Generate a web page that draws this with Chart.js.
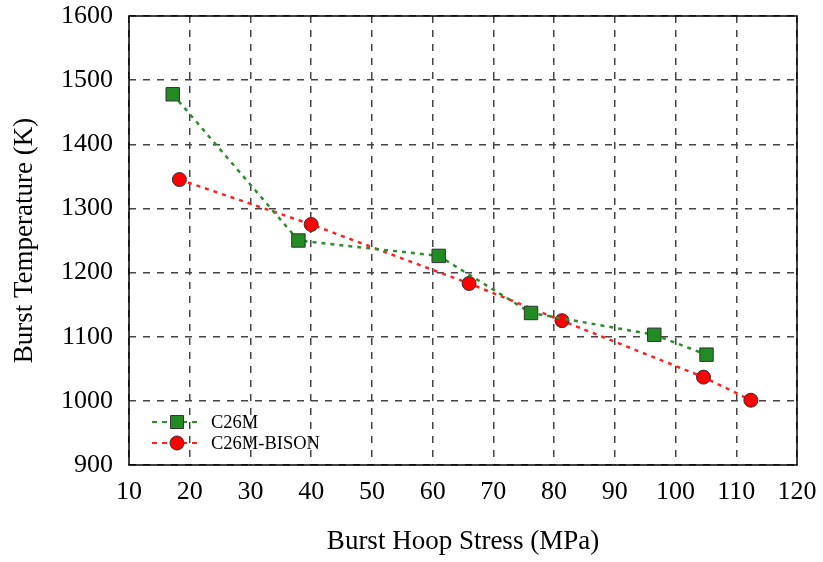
<!DOCTYPE html>
<html>
<head>
<meta charset="utf-8">
<script src="https://cdn.jsdelivr.net/npm/chart.js@4.4.1/dist/chart.umd.min.js"></script>
<style>
  html, body { margin: 0; padding: 0; background: #fff; }
  #wrap { width: 823px; height: 562px; }
</style>
</head>
<body>
<div id="wrap"><canvas id="c" width="823" height="562"></canvas></div>
<script>
// values
var c26mStress = [17.2, 37.9, 61, 76.2, 96.5, 105.1];
var c26mTemp   = [1478, 1250, 1226, 1137, 1103, 1072];
var bisonStress = [18.3, 40, 66, 81.3, 104.6, 112.4];
var bisonTemp   = [1345, 1275, 1183, 1125, 1037, 1001];
var xTicks = [10, 20, 30, 40, 50, 60, 70, 80, 90, 100, 110, 120];
var yTicks = [900, 1000, 1100, 1200, 1300, 1400, 1500, 1600];

var FONT = "'Liberation Serif', 'Times New Roman', serif";

function pts(xs, ys) {
  var out = [];
  for (var i = 0; i < xs.length; i++) out.push({x: xs[i], y: ys[i]});
  return out;
}

// box around plot + legend inside, lower left
var boxLegend = {
  id: 'boxLegend',
  afterDraw: function (chart) {
    var ctx = chart.ctx, a = chart.chartArea;
    ctx.save();
    ctx.strokeStyle = '#000';
    ctx.lineWidth = 1.5;
    ctx.setLineDash([]);
    ctx.strokeRect(a.left, a.top, a.right - a.left, a.bottom - a.top);

    var ds = chart.data.datasets;
    for (var i = 0; i < ds.length; i++) {
      var y = 422 + i * 21;
      ctx.strokeStyle = ds[i].borderColor;
      ctx.lineWidth = 2;
      ctx.setLineDash([5, 5]);
      ctx.beginPath();
      ctx.moveTo(152, y);
      ctx.lineTo(202, y);
      ctx.stroke();
      ctx.setLineDash([]);
      ctx.fillStyle = ds[i].pointBackgroundColor;
      ctx.strokeStyle = ds[i].pointBorderColor;
      ctx.lineWidth = 1;
      ctx.beginPath();
      if (ds[i].pointStyle === 'rect') {
        ctx.rect(170.5, y - 6.5, 13, 13);
      } else {
        ctx.arc(177, y, 7, 0, Math.PI * 2);
      }
      ctx.fill();
      ctx.stroke();
      ctx.fillStyle = '#000';
      ctx.font = '18.5px ' + FONT;
      ctx.textBaseline = 'middle';
      ctx.fillText(ds[i].label, 211, y + 1);
    }
    ctx.restore();
  }
};

new Chart(document.getElementById('c'), {
  type: 'scatter',
  data: {
    datasets: [{
      label: 'C26M',
      data: pts(c26mStress, c26mTemp),
      showLine: true,
      borderColor: '#2e8b2e',
      borderWidth: 2.5,
      borderDash: [4, 5],
      pointStyle: 'rect',
      pointRadius: 9.5,
      pointBackgroundColor: '#228b22',
      pointBorderColor: '#333',
      pointBorderWidth: 1
    }, {
      label: 'C26M-BISON',
      data: pts(bisonStress, bisonTemp),
      showLine: true,
      borderColor: '#ff2020',
      borderWidth: 2.5,
      borderDash: [4, 5],
      pointStyle: 'circle',
      pointRadius: 7,
      pointBackgroundColor: '#ff0000',
      pointBorderColor: '#333',
      pointBorderWidth: 1
    }]
  },
  options: {
    responsive: false,
    animation: false,
    layout: { padding: { top: 16, right: 26, left: 5, bottom: 0 } },
    plugins: { legend: { display: false }, tooltip: { enabled: false } },
    scales: {
      x: {
        type: 'linear',
        min: 10, max: 120,
        afterBuildTicks: function (s) { s.ticks = xTicks.map(function (v) { return {value: v}; }); },
        afterFit: function (s) { s.height = 97; s.paddingLeft = 0; s.paddingRight = 0; },
        grid: { color: '#444', lineWidth: 1.5, drawTicks: false },
        border: { display: false, dash: [7, 7] },
        ticks: { color: '#000', font: { family: FONT, size: 26 }, padding: 12, maxRotation: 0,
          callback: function (v) { return String(v); } },
        title: { display: true, text: 'Burst Hoop Stress (MPa)', color: '#000', font: { family: FONT, size: 27 }, padding: { top: 11 } }
      },
      y: {
        type: 'linear',
        min: 900, max: 1600,
        afterBuildTicks: function (s) { s.ticks = yTicks.map(function (v) { return {value: v}; }); },
        afterFit: function (s) { s.width = 124; s.paddingTop = 0; s.paddingBottom = 0; },
        grid: { color: '#444', lineWidth: 1.5, drawTicks: false },
        border: { display: false, dash: [7, 7] },
        ticks: { color: '#000', font: { family: FONT, size: 26 }, padding: 16,
          callback: function (v) { return String(v); } },
        title: { display: true, text: 'Burst Temperature (K)', color: '#000', font: { family: FONT, size: 27 }, padding: { bottom: 4 } }
      }
    }
  },
  plugins: [boxLegend]
});
</script>
</body>
</html>
